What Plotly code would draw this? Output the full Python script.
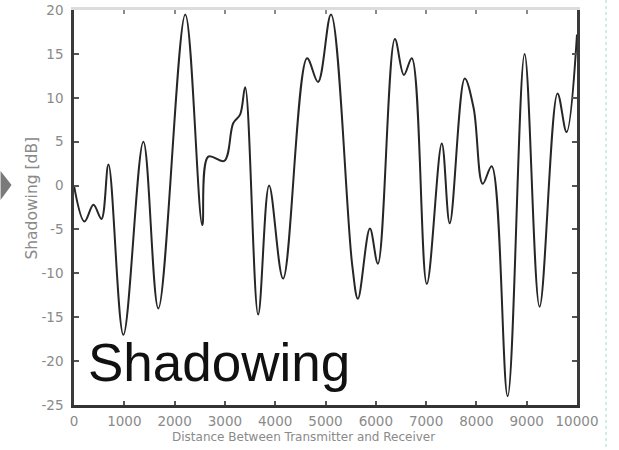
import plotly.graph_objects as go

# Data
distance = [0, 208, 387, 546, 685, 982, 1379, 1677, 2212, 2550, 2669, 2986, 3165, 3304, 3403,
            3661, 3879, 4157, 4633, 4851, 5109, 5530, 5645, 5883, 6042, 6379, 6558, 6716, 7014,
            7312, 7470, 7768, 7946, 8125, 8304, 8621, 8958, 9256, 9613, 9792, 10000]
shadowing = [0, -4.1, -2.2, -3.8, 2.4, -17, 5, -14, 19.5, -4.5, 3.3, 2.8, 7.1, 8.1, 11.2,
             -14.7, 0, -10.6, 14.5, 11.8, 19.5, -9, -12.9, -4.9, -8.9, 16.7, 12.6, 14.5, -11.2,
             4.8, -4.3, 12.2, 8.8, 0.2, 2.2, -24, 15, -13.8, 10.5, 6.1, 17.2]

x_ticks = [0, 1000, 2000, 3000, 4000, 5000, 6000, 7000, 8000, 9000, 10000]
y_ticks = [20, 15, 10, 5, 0, -5, -10, -15, -20, -25]

W, H = 619, 450
L, R, T, B = 73.5, 577, 10, 405


def px(xp):
    return (xp - L) / (R - L)


def py(yp):
    return (B - yp) / (B - T)


fig = go.Figure()
fig.add_trace(go.Scatter(
    x=distance, y=shadowing, mode="lines",
    line=dict(color="#262626", width=2.0, shape="spline", smoothing=1.0),
    showlegend=False, hoverinfo="skip",
))

tick_font = dict(family="DejaVu Sans", size=13.5, color="#8a8a8a")

fig.update_layout(
    width=W, height=H,
    margin=dict(l=L, r=W - R, t=T, b=H - B, pad=0, autoexpand=False),
    paper_bgcolor="white", plot_bgcolor="white",
    showlegend=False,
    xaxis=dict(
        range=[0, 10000], tickvals=x_ticks, ticktext=[str(v) for v in x_ticks],
        showgrid=False, zeroline=False, automargin=False,
        showline=True, linecolor="#333333", linewidth=2.5,
        ticks="inside", ticklen=4, tickwidth=2, tickcolor="#555555",
        tickfont=tick_font, ticklabelstandoff=2,
    ),
    xaxis2=dict(
        range=[0, 10000], tickvals=x_ticks, overlaying="x", side="top", anchor="y",
        showgrid=False, zeroline=False, showticklabels=False, automargin=False,
        showline=True, linecolor="#dcdcdc", linewidth=3,
        ticks="inside", ticklen=4, tickwidth=2, tickcolor="#8a8a8a",
    ),
    yaxis=dict(
        range=[-25, 20], tickvals=y_ticks, ticktext=[str(v) for v in y_ticks],
        showgrid=False, zeroline=False, automargin=False,
        showline=True, linecolor="#3a3a3a", linewidth=2.5, mirror="ticks",
        ticks="inside", ticklen=5, tickwidth=2, tickcolor="#555555",
        tickfont=tick_font, ticklabelstandoff=5,
    ),
)

# dummy anchor so the top axis is drawn
fig.add_trace(go.Scatter(x=[None], y=[None], xaxis="x2", yaxis="y", showlegend=False,
                         hoverinfo="skip"))

annotations = [
    dict(text="Shadowing", x=px(86), y=py(362), xref="paper", yref="paper",
         xanchor="left", yanchor="middle", showarrow=False,
         font=dict(family="Liberation Sans, Arial", size=53, color="#111111")),
    dict(text="Shadowing [dB]", x=px(31), y=py(198), xref="paper", yref="paper",
         xanchor="center", yanchor="middle", textangle=-90, showarrow=False,
         font=dict(family="DejaVu Sans", size=15.5, color="#8a8a8a")),
    dict(text="Distance Between Transmitter and Receiver", x=px(303), y=py(437),
         xref="paper", yref="paper", xanchor="center", yanchor="middle", showarrow=False,
         font=dict(family="DejaVu Sans", size=12, color="#8a8a8a")),
]
fig.update_layout(annotations=annotations)

shapes = [
    # slide arrow at left edge
    dict(type="path", xref="paper", yref="paper",
         path=f"M {px(0)} {py(171)} L {px(11)} {py(185)} L {px(0)} {py(200)} Z",
         fillcolor="#7a7a7a", line=dict(width=0)),
    # dotted slide guide at right edge
    dict(type="line", xref="paper", yref="paper", x0=px(606), x1=px(606),
         y0=py(0), y1=py(450), line=dict(color="#cdeee6", width=2, dash="dot")),
]
fig.update_layout(shapes=shapes)

fig.write_html("out.html", config={"displayModeBar": False},
               post_script="document.body.style.margin='0';")
